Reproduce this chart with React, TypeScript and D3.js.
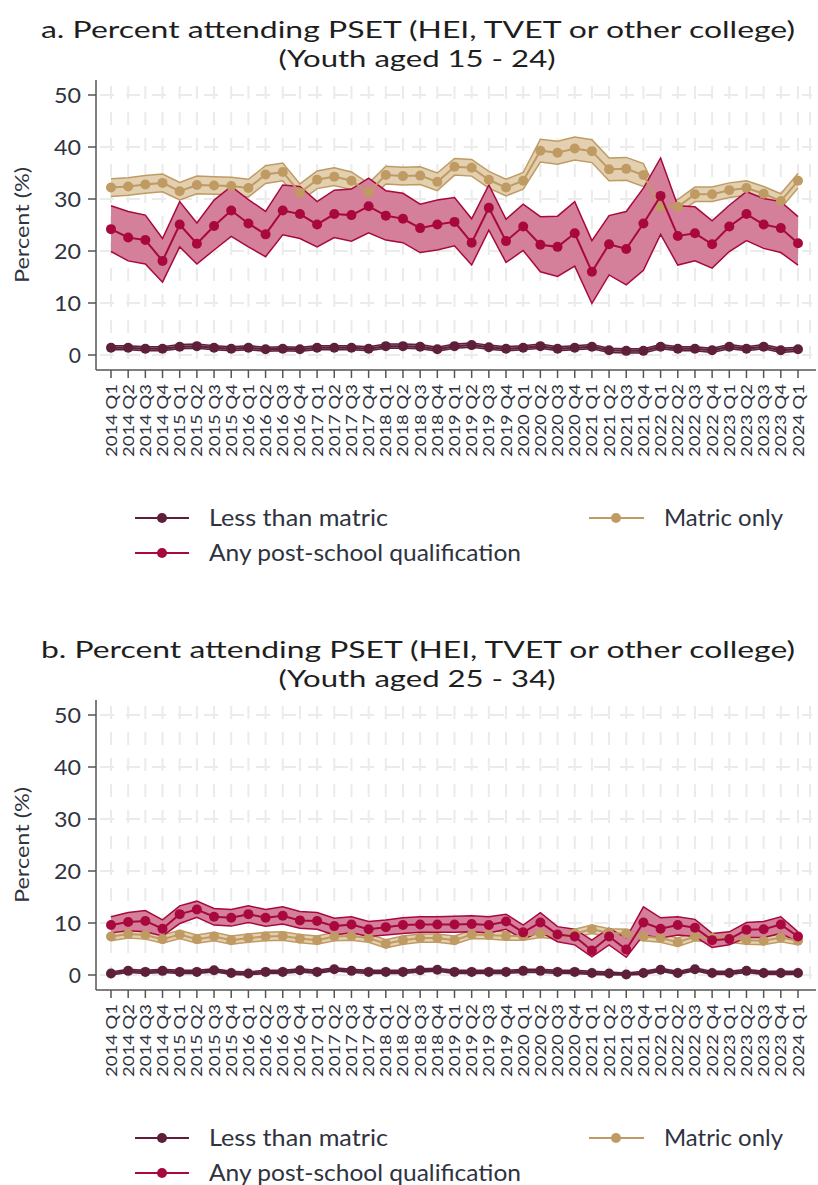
import React from "react";
import * as d3 from "d3";

const quarters = [
  "2014 Q1","2014 Q2","2014 Q3","2014 Q4","2015 Q1","2015 Q2","2015 Q3","2015 Q4",
  "2016 Q1","2016 Q2","2016 Q3","2016 Q4","2017 Q1","2017 Q2","2017 Q3","2017 Q4",
  "2018 Q1","2018 Q2","2018 Q3","2018 Q4","2019 Q1","2019 Q2","2019 Q3","2019 Q4",
  "2020 Q1","2020 Q2","2020 Q3","2020 Q4","2021 Q1","2021 Q2","2021 Q3","2021 Q4",
  "2022 Q1","2022 Q2","2022 Q3","2022 Q4","2023 Q1","2023 Q2","2023 Q3","2023 Q4",
  "2024 Q1"
];
const yTicks = [0, 10, 20, 30, 40, 50];

// Panel a: youth aged 15-24
const aLessVal = [1.4,1.4,1.2,1.2,1.6,1.7,1.4,1.2,1.4,1.1,1.2,1.1,1.4,1.4,1.4,1.2,1.7,1.7,1.6,1.1,1.7,1.9,1.5,1.2,1.4,1.7,1.2,1.4,1.6,0.9,0.8,0.8,1.6,1.2,1.2,0.9,1.6,1.2,1.6,0.9,1.1];
const aLessLo = [1.0,1.0,0.8,0.8,1.2,1.3,1.0,0.8,1.0,0.7,0.8,0.7,1.0,1.0,1.0,0.8,1.3,1.3,1.2,0.7,1.3,1.5,1.1,0.8,1.0,1.3,0.8,1.0,1.2,0.5,0.4,0.4,1.2,0.8,0.8,0.5,1.2,0.8,1.2,0.5,0.7];
const aLessHi = [1.8,1.8,1.6,1.6,2.0,2.1,1.8,1.6,1.8,1.5,1.6,1.5,1.8,1.8,1.8,1.6,2.1,2.1,2.0,1.5,2.1,2.3,1.9,1.6,1.8,2.1,1.6,1.8,2.0,1.3,1.2,1.2,2.0,1.6,1.6,1.3,2.0,1.6,2.0,1.3,1.5];

const aMatricVal = [32.2,32.4,32.8,33.1,31.5,32.7,32.6,32.5,32.1,34.7,35.2,31.2,33.7,34.3,33.5,31.3,34.6,34.4,34.5,33.3,36.2,36.0,33.7,32.2,33.5,39.3,38.9,39.7,39.2,35.7,35.8,34.6,28.5,28.5,30.9,30.9,31.7,32.1,31.0,29.6,33.5];
const aMatricLo = [30.5,30.7,31.1,31.4,29.8,31.0,30.9,30.8,30.4,33.0,33.5,29.5,32.0,32.6,31.8,29.6,32.9,32.7,32.8,31.6,34.6,34.4,32.1,30.6,31.9,37.1,36.7,37.5,37.0,33.5,33.6,32.4,27.1,27.1,29.5,29.5,30.3,30.7,29.6,28.2,32.1];
const aMatricHi = [33.9,34.1,34.5,34.8,33.2,34.4,34.3,34.2,33.8,36.4,36.9,32.9,35.4,36.0,35.2,33.0,36.3,36.1,36.2,35.0,37.8,37.6,35.3,33.8,35.1,41.5,41.1,41.9,41.4,37.9,38.0,36.8,29.9,29.9,32.3,32.3,33.1,33.5,32.4,31.0,34.9];

const aPostVal = [24.2,22.6,22.1,18.1,25.1,21.4,24.8,27.8,25.3,23.2,27.8,27.1,25.1,27.1,26.9,28.6,26.8,26.2,24.4,25.1,25.6,21.6,28.3,21.9,24.7,21.2,20.8,23.4,16.0,21.3,20.4,25.3,30.6,22.9,23.4,21.3,24.7,27.1,25.1,24.4,21.5];
const aPostLo = [19.9,18.1,17.5,14.0,20.8,17.5,20.2,22.8,20.8,18.9,23.1,22.4,20.8,22.6,21.9,23.5,22.1,21.6,19.7,20.2,21.0,17.3,24.0,17.8,20.1,16.0,15.1,17.1,9.9,15.4,13.5,16.3,23.2,17.3,18.1,16.7,19.9,22.0,20.5,19.7,17.3];
const aPostHi = [28.7,27.6,26.9,22.4,29.5,25.4,29.8,32.4,29.9,27.6,32.7,32.4,29.5,31.7,31.9,34.0,31.6,31.1,29.0,29.8,30.3,26.2,32.7,26.1,29.0,26.6,26.7,29.5,22.0,26.8,27.6,32.1,37.9,28.7,28.5,25.8,28.8,31.4,30.1,29.5,26.6];

// Panel b: youth aged 25-34
const bLessVal = [0.3,0.8,0.6,0.8,0.6,0.6,0.9,0.4,0.3,0.6,0.6,0.9,0.6,1.1,0.8,0.6,0.6,0.6,0.9,1.0,0.6,0.6,0.6,0.6,0.8,0.8,0.6,0.6,0.4,0.3,0.1,0.4,1.0,0.4,1.1,0.4,0.4,0.8,0.4,0.4,0.4];
const bLessLo = [0.0,0.5,0.3,0.5,0.3,0.3,0.6,0.1,0.0,0.3,0.3,0.6,0.3,0.8,0.5,0.3,0.3,0.3,0.6,0.7,0.3,0.3,0.3,0.3,0.5,0.5,0.3,0.3,0.1,0.0,0.0,0.1,0.7,0.1,0.8,0.1,0.1,0.5,0.1,0.1,0.1];
const bLessHi = [0.6,1.1,0.9,1.1,0.9,0.9,1.2,0.7,0.6,0.9,0.9,1.2,0.9,1.4,1.1,0.9,0.9,0.9,1.2,1.3,0.9,0.9,0.9,0.9,1.1,1.1,0.9,0.9,0.7,0.6,0.4,0.7,1.3,0.7,1.4,0.7,0.7,1.1,0.7,0.7,0.7];

const bMatricVal = [7.4,7.9,7.7,6.9,7.8,6.9,7.4,6.7,7.1,7.4,7.5,7.0,6.7,7.4,7.5,7.1,6.0,6.7,7.1,7.1,6.7,7.8,7.7,7.5,7.5,8.0,7.7,8.0,8.8,8.1,8.0,7.4,7.1,6.3,7.4,7.1,7.1,6.7,6.6,7.2,6.6];
const bMatricLo = [6.6,7.1,6.9,6.1,7.0,6.1,6.6,5.9,6.3,6.6,6.7,6.2,5.9,6.6,6.7,6.3,5.2,5.9,6.3,6.3,5.9,7.0,6.9,6.7,6.7,7.2,6.9,7.2,8.0,7.3,7.2,6.6,6.3,5.5,6.6,6.3,6.3,5.9,5.8,6.4,5.8];
const bMatricHi = [8.2,8.7,8.5,7.7,8.6,7.7,8.2,7.5,7.9,8.2,8.3,7.8,7.5,8.2,8.3,7.9,6.8,7.5,7.9,7.9,7.5,8.6,8.5,8.3,8.3,8.8,8.5,8.8,9.6,8.9,8.8,8.2,7.9,7.1,8.2,7.9,7.9,7.5,7.4,8.0,7.4];

const bPostVal = [9.6,10.2,10.4,8.9,11.7,12.6,11.2,11.0,11.7,11.0,11.4,10.5,10.4,9.4,9.7,8.8,9.2,9.6,9.7,9.7,9.7,9.8,9.6,10.3,8.2,10.1,7.8,7.4,4.7,7.4,4.9,10.1,8.9,9.6,9.1,6.7,6.9,8.7,8.8,9.7,7.4];
const bPostLo = [8.1,8.5,8.3,7.5,9.9,11.1,9.6,9.4,10.1,9.4,9.8,9.0,8.8,7.7,8.1,7.4,7.7,8.0,8.2,8.2,8.2,8.3,8.1,8.8,6.9,8.3,6.4,5.8,3.5,5.8,3.4,7.7,7.1,7.7,7.4,5.3,5.8,7.2,7.2,8.0,6.3];
const bPostHi = [11.2,12.0,12.4,10.6,13.3,14.2,12.8,12.6,13.3,12.6,13.1,12.2,12.0,10.9,11.2,10.3,10.6,11.0,11.2,11.2,11.3,11.4,11.2,11.7,9.6,12.0,9.3,8.8,6.7,9.0,7.1,13.1,11.0,11.2,10.7,8.0,8.3,10.1,10.3,11.2,8.3];

const seriesNames = ["Less than matric", "Matric only", "Any post-school qualification"];
const colors = {
  less: "#5e1f3b",
  matric: "#bf9b63",
  matricFill: "#e3d0b0",
  post: "#a8083e",
  postFill: "#d4809a",
};

const FONT = "Lato, 'Open Sans', sans-serif";
const TEXT = "#2f3340";

type S = { val: number[]; lo: number[]; hi: number[]; color: string; fill: string; fillOpacity: number };

function Panel({ offset, title1, title2, less, matric, post }: { offset: number; title1: string; title2: string; less: S; matric: S; post: S }) {
  const x = d3.scalePoint<string>().domain(quarters).range([111, 798]);
  const y = d3.scaleLinear().domain([0, 50]).range([355, 95]);
  const mkBand = (s: S) =>
    d3.area<number>()
      .x((_, i) => x(quarters[i]) as number)
      .y0((_, i) => y(s.lo[i]))
      .y1((_, i) => y(s.hi[i]))(s.val) as string;
  const mkEdge = (arr: number[]) =>
    d3.line<number>().x((_, i) => x(quarters[i]) as number).y((d) => y(d))(arr) as string;
  const gridY = [0, 10, 20, 30, 40, 50];
  const renderBand = (s: S, key: string) => (
    <g key={key}>
      <path d={mkBand(s)} fill={s.fill} fillOpacity={s.fillOpacity} stroke="none" />
      <path d={mkEdge(s.lo)} fill="none" stroke={s.color} strokeWidth={1.5} />
      <path d={mkEdge(s.hi)} fill="none" stroke={s.color} strokeWidth={1.5} />
    </g>
  );
  const renderLine = (s: S, key: string) => (
    <g key={key}>
      <path d={mkEdge(s.val)} fill="none" stroke={s.color} strokeWidth={2} />
      {s.val.map((v, i) => (
        <circle key={i} cx={x(quarters[i]) as number} cy={y(v)} r={5} fill={s.color} />
      ))}
    </g>
  );
  return (
    <g transform={`translate(0,${offset})`}>
      <text x={418} y={38} textAnchor="middle" fontFamily={FONT} fontWeight={400} fontSize={24} fill="#1e1e1e" textLength={754} lengthAdjust="spacingAndGlyphs">{title1}</text>
      <text x={417} y={67} textAnchor="middle" fontFamily={FONT} fontWeight={400} fontSize={24} fill="#1e1e1e" textLength={277} lengthAdjust="spacingAndGlyphs">{title2}</text>
      {/* grid */}
      <g stroke="#ebebeb" strokeWidth={2}>
        {quarters.map((q) => (
          <line key={q} x1={x(q) as number} x2={x(q) as number} y1={82} y2={366} strokeDasharray="13,13" strokeDashoffset={-4} />
        ))}
        <line x1={810} x2={810} y1={82} y2={366} strokeDasharray="13,13" strokeDashoffset={-4} />
        {gridY.map((g) => (
          <line key={g} x1={100} x2={812} y1={y(g)} y2={y(g)} strokeDasharray="14,12" />
        ))}
      </g>
      {renderBand(matric, "mb")}
      {renderBand(post, "pb")}
      {renderBand(less, "lb")}
      {renderLine(matric, "ml")}
      {renderLine(post, "pl")}
      {renderLine(less, "ll")}
      {/* y axis */}
      <line x1={96} x2={96} y1={80} y2={370} stroke="#555" strokeWidth={1.5} />
      {yTicks.map((t) => (
        <g key={t}>
          <line x1={88} x2={96} y1={y(t)} y2={y(t)} stroke="#555" strokeWidth={1.5} />
          <text x={81} y={y(t)} dy="0.36em" textAnchor="end" fontFamily={FONT} fontSize={21} fill={TEXT}
            textLength={t === 0 ? undefined : 27} lengthAdjust="spacingAndGlyphs">{t}</text>
        </g>
      ))}
      <text transform={`translate(29,225) rotate(-90)`} textAnchor="middle" fontFamily={FONT} fontSize={20} fill={TEXT} textLength={116} lengthAdjust="spacingAndGlyphs">Percent (%)</text>
      {/* x axis */}
      <line x1={96} x2={816} y1={370} y2={370} stroke="#555" strokeWidth={1.5} />
      {quarters.map((q) => (
        <g key={q}>
          <line x1={x(q) as number} x2={x(q) as number} y1={370} y2={378} stroke="#555" strokeWidth={1.5} />
          <text transform={`translate(${(x(q) as number) + 5.5},${384}) rotate(-90)`} textAnchor="end" fontFamily={FONT} fontSize={16} fill={TEXT} textLength={73} lengthAdjust="spacingAndGlyphs">{q}</text>
        </g>
      ))}
      {/* legend */}
      <g fontFamily={FONT} fontSize={23} fill={TEXT}>
        <line x1={135} x2={189} y1={518} y2={518} stroke={less.color} strokeWidth={2} />
        <circle cx={162} cy={518} r={5} fill={less.color} />
        <text x={209} y={518} dy="0.36em" textLength={179} lengthAdjust="spacingAndGlyphs">{seriesNames[0]}</text>
        <line x1={589} x2={644} y1={518} y2={518} stroke={matric.color} strokeWidth={2} />
        <circle cx={616} cy={518} r={5} fill={matric.color} />
        <text x={664} y={518} dy="0.36em" textLength={119} lengthAdjust="spacingAndGlyphs">{seriesNames[1]}</text>
        <line x1={135} x2={189} y1={553} y2={553} stroke={post.color} strokeWidth={2} />
        <circle cx={162} cy={553} r={5} fill={post.color} />
        <text x={209} y={553} dy="0.36em" textLength={312} lengthAdjust="spacingAndGlyphs">{seriesNames[2]}</text>
      </g>
    </g>
  );
}

export default function App() {
  return (
    <svg width={818} height={1185} style={{ position: "absolute", left: 0, top: 0, background: "#fff" }}>
      <rect width={818} height={1185} fill="#fff" />
      <Panel
        offset={0}
        title1="a. Percent attending PSET (HEI, TVET or other college)"
        title2="(Youth aged 15 - 24)"
        less={{ val: aLessVal, lo: aLessLo, hi: aLessHi, color: colors.less, fill: colors.less, fillOpacity: 0.5 }}
        matric={{ val: aMatricVal, lo: aMatricLo, hi: aMatricHi, color: colors.matric, fill: colors.matricFill, fillOpacity: 1 }}
        post={{ val: aPostVal, lo: aPostLo, hi: aPostHi, color: colors.post, fill: colors.postFill, fillOpacity: 1 }}
      />
      <Panel
        offset={620}
        title1="b. Percent attending PSET (HEI, TVET or other college)"
        title2="(Youth aged 25 - 34)"
        less={{ val: bLessVal, lo: bLessLo, hi: bLessHi, color: colors.less, fill: colors.less, fillOpacity: 0.5 }}
        matric={{ val: bMatricVal, lo: bMatricLo, hi: bMatricHi, color: colors.matric, fill: colors.matricFill, fillOpacity: 1 }}
        post={{ val: bPostVal, lo: bPostLo, hi: bPostHi, color: colors.post, fill: colors.postFill, fillOpacity: 1 }}
      />
    </svg>
  );
}
